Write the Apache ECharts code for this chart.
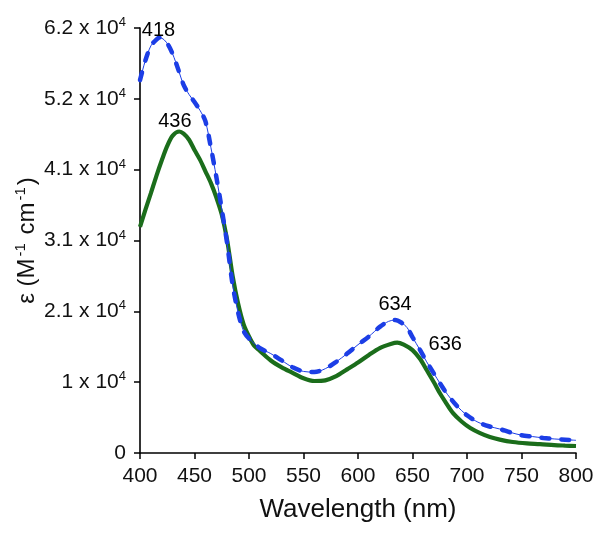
<!DOCTYPE html>
<html>
<head>
<meta charset="utf-8">
<script src="https://cdn.jsdelivr.net/npm/echarts@6/dist/echarts.min.js"></script>
<style>html,body{margin:0;padding:0;background:#fff;}#c{width:604px;height:538px;}</style>
</head>
<body>
<div id="c"></div>
<script>
// Wavelength (nm) and molar absorptivity values
const blueWavelengths = [400,405,410,415,418,422,426,430,435,440,445,450,455,460,465,470,475,480,485,490,495,500,510,520,530,540,550,560,570,580,590,600,610,620,628,634,640,645,650,657,663,670,680,690,700,710,720,730,740,750,760,770,780,790,800];
const blueValues = [54400,57300,59400,60300,60600,60300,59500,58200,56000,53700,52300,51200,50000,48400,44600,40300,35600,30500,24500,20500,17800,16700,15300,14500,13500,12500,11900,11800,12300,13300,14500,15800,17000,18400,19200,19400,19000,18300,16900,15000,13300,11500,9000,7000,5500,4500,3900,3500,3000,2600,2400,2200,2050,1950,1850];

const greenWavelengths = [400,405,410,415,420,425,430,436,440,445,450,455,460,465,470,475,480,485,490,495,500,505,510,520,530,540,550,560,570,580,590,600,610,620,630,636,642,650,657,663,670,675,680,687,695,703,712,721,730,742,755,767,780,790,800];
const greenValues = [33000,35500,37900,40400,42700,44800,46300,46900,46600,45700,44200,42800,41100,39400,37300,34800,31000,25800,21800,18800,17000,15600,14900,13500,12500,11700,10900,10500,10600,11200,12200,13200,14300,15300,15900,16100,15800,15000,13700,12100,10200,8750,7500,5850,4600,3650,2900,2330,1950,1600,1400,1300,1150,1080,1020];

// Peak annotations (text and position in data units)
const annoTexts = ['418','436','634','636'];
const annoX = [417, 432, 634, 680];
const annoY = [61700, 48300, 21600, 15900];

const xTickLabels = ['400','450','500','550','600','650','700','750','800'];
const yTickLabels = ['0','1 x 10{s|4}','2.1 x 10{s|4}','3.1 x 10{s|4}','4.1 x 10{s|4}','5.2 x 10{s|4}','6.2 x 10{s|4}'];

const xMin = 400, xMax = 800, xStep = 50;
const yMin = 0, yMax = 62000, ySteps = 6;

const FONT = '"Liberation Sans", Arial, Helvetica, sans-serif';
const BLUE = '#1c3ee6';
const GREEN = '#1b6d1b';

const zip = (xs, ys) => xs.map((x, i) => [x, ys[i]]);

const chart = echarts.init(document.getElementById('c'), null, {renderer: 'canvas'});
chart.setOption({
  animation: false,
  backgroundColor: '#fff',
  grid: {left: 140, right: 28, top: 28, bottom: 85, containLabel: false, outerBoundsMode: 'none'},
  xAxis: {
    type: 'value', min: xMin, max: xMax, interval: xStep,
    name: 'Wavelength (nm)', nameLocation: 'middle', nameGap: 44, nameMoveOverlap: false,
    nameTextStyle: {fontFamily: FONT, fontSize: 26, color: '#111'},
    axisLine: {show: true, onZero: false, lineStyle: {color: '#000', width: 1.6}},
    axisTick: {show: true, inside: false, length: 6, lineStyle: {color: '#000', width: 1.5}},
    axisLabel: {
      margin: 13, fontFamily: FONT, fontSize: 21, color: '#111',
      formatter: v => xTickLabels[Math.round((v - xMin) / xStep)]
    },
    splitLine: {show: false}
  },
  yAxis: {
    type: 'value', min: yMin, max: yMax, interval: (yMax - yMin) / ySteps,
    name: 'ε (M{s|-1} cm{s|-1})', nameLocation: 'middle', nameGap: 99, nameMoveOverlap: false,
    nameTextStyle: {
      fontFamily: FONT, fontSize: 24, color: '#111', lineHeight: 28,
      rich: {s: {fontFamily: FONT, fontSize: 15, lineHeight: 15, verticalAlign: 'top', color: '#111', padding: [0, 2, 0, 2]}}
    },
    axisLine: {show: true, lineStyle: {color: '#000', width: 1.6}},
    axisTick: {show: true, inside: false, length: 6, lineStyle: {color: '#000', width: 1.5}},
    axisLabel: {
      margin: 14, fontFamily: FONT, fontSize: 21, color: '#111', lineHeight: 24,
      rich: {s: {fontFamily: FONT, fontSize: 13, lineHeight: 13, verticalAlign: 'top', color: '#111'}},
      formatter: v => yTickLabels[Math.round((v - yMin) / ((yMax - yMin) / ySteps))]
    },
    splitLine: {show: false}
  },
  series: [
    {
      type: 'line', data: zip(greenWavelengths, greenValues), smooth: 0.3, showSymbol: false,
      lineStyle: {color: GREEN, width: 4.2}, z: 2
    },
    {
      type: 'line', data: zip(blueWavelengths, blueValues), smooth: 0.3, showSymbol: false,
      lineStyle: {color: BLUE, width: 1}, z: 3
    },
    {
      type: 'line', data: zip(blueWavelengths, blueValues), smooth: 0.3, showSymbol: false,
      lineStyle: {color: BLUE, width: 4.5, type: [8, 12], cap: 'round'}, z: 4
    },
    {
      type: 'scatter', symbolSize: 0, z: 5, itemStyle: {opacity: 1},
      data: annoTexts.map((t, i) => ({value: [annoX[i], annoY[i]], name: t})),
      label: {show: true, position: 'inside', formatter: p => p.name, fontFamily: FONT, fontSize: 20, color: '#000', opacity: 1}
    }
  ]
});
</script>
</body>
</html>
